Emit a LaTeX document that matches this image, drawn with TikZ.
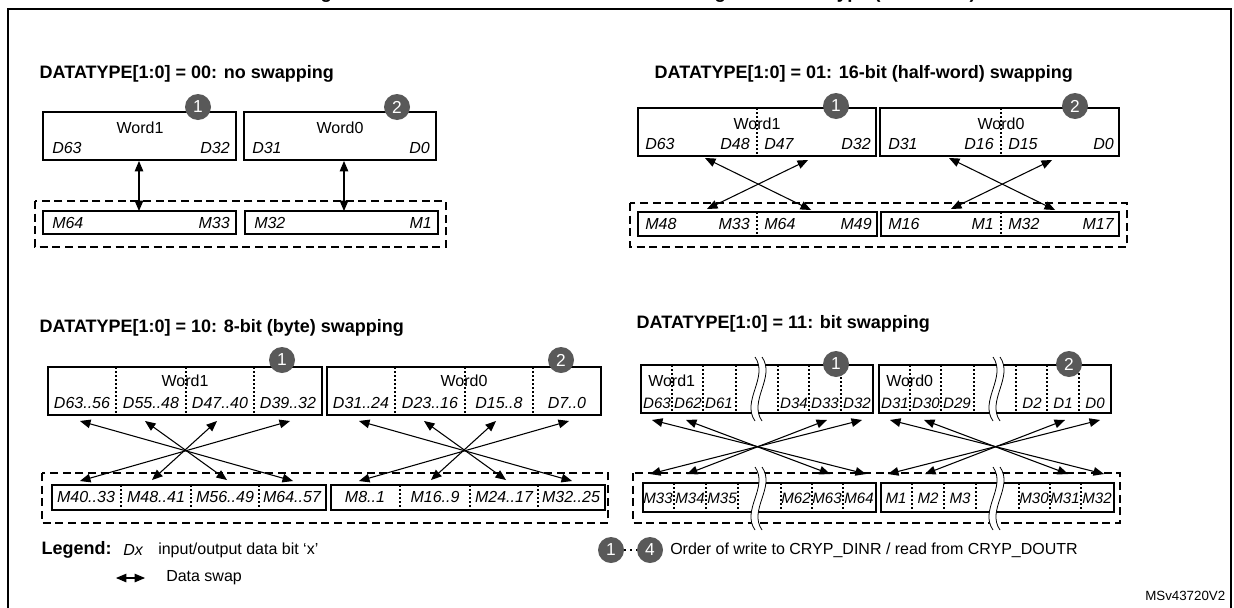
\documentclass[tikz,border=0pt]{standalone}
\usepackage{fontspec}
\setmainfont{Liberation Sans}
\usetikzlibrary{arrows}

\tikzset{
  box/.style={line width=1.1pt},
  grp/.style={line width=1.1pt, dash pattern=on 6pt off 3.5pt},
  div/.style={line width=0.8pt, dash pattern=on 1.5pt off 1.5pt},
  swap/.style={line width=0.8pt, arrows={triangle 45-triangle 45}},
  head/.style={font=\fontsize{13.5}{15}\bfseries\selectfont, anchor=west},
  lbl/.style={font=\fontsize{12}{13}\selectfont, inner sep=0pt},
  bit/.style={font=\fontsize{12}{13}\itshape\selectfont, inner sep=0pt},
  sbit/.style={font=\fontsize{11.3}{12}\itshape\selectfont, inner sep=0pt},
  ord/.style={circle, fill=black!65, text=white, minimum size=19.5pt, inner sep=0pt,
    font=\fontsize{13}{14}\selectfont}
}

% cut in a long register
\newcommand{\brk}[3]{%
  \fill[white] (#1,#2) .. controls (#1+14,#2+20) and (#1-14,#3-20) .. (#1,#3)
    -- (#1+7,#3) .. controls (#1-7,#3-20) and (#1+21,#2+20) .. (#1+7,#2) -- cycle;
  \draw[line width=0.6pt] (#1,#2) .. controls (#1+14,#2+20) and (#1-14,#3-20) .. (#1,#3);
  \draw[line width=0.6pt] (#1+7,#2) .. controls (#1+21,#2+20) and (#1-7,#3-20) .. (#1+7,#3);
}

\begin{document}
\begin{tikzpicture}[x=0.75pt,y=-0.75pt]
\useasboundingbox (0,0) rectangle (1234,607);

\draw[line width=1.2pt] (8,620) -- (8,9) -- (1231,9) -- (1231,620);
\node[font=\fontsize{14}{15}\bfseries\selectfont, anchor=base] (ttl) at (640,-2)
  {Figure 206. 64-bit block construction according to the data type (continued)};

%% 00: no swapping
\node[head] (h00) at (35,74) {DATATYPE[1:0] = 00: no swapping};
\draw[box] (43,112) rectangle (236,160);
\draw[box] (244,112) rectangle (436,160);
\node[lbl] (w1a) at (140,128) {Word1};
\node[lbl] (w0a) at (340,128) {Word0};
\node[bit,anchor=west] at (52,148) {D63};
\node[bit,anchor=east] at (230,148) {D32};
\node[bit,anchor=west] at (252,148) {D31};
\node[bit,anchor=east] at (430,148) {D0};
\draw[grp] (35,201) rectangle (446,247);
\draw[box] (43,211) rectangle (236,234);
\draw[box] (245,211) rectangle (438,234);
\node[bit,anchor=west] at (52,223) {M64};
\node[bit,anchor=east] at (230,223) {M33};
\node[bit,anchor=west] at (254,223) {M32};
\node[bit,anchor=east] at (432,223) {M1};
\coordinate (a1) at (139,161); \coordinate (b1) at (139,211);
\coordinate (a2) at (344,161); \coordinate (b2) at (344,211);
\draw[swap] (a1) -- (b1);
\draw[swap] (a2) -- (b2);
\node[ord] (c1a) at (198,107) {1};
\node[ord] (c2a) at (397,107) {2};

%% 01: half-word swapping
\node[head] (h01) at (650,74) {DATATYPE[1:0] = 01: 16-bit (half-word) swapping};
\draw[box] (638,108) rectangle (876,156);
\draw[box] (880,108) rectangle (1119,156);
\draw[div] (757,108) -- (757,156);
\draw[div] (1001,108) -- (1001,156);
\node[lbl] at (757,124) {Word1};
\node[lbl] at (1001,124) {Word0};
\node[bit,anchor=west] at (645,144) {D63};
\node[bit,anchor=east] at (750,144) {D48};
\node[bit,anchor=west] at (764,144) {D47};
\node[bit,anchor=east] at (871,144) {D32};
\node[bit,anchor=west] at (888,144) {D31};
\node[bit,anchor=east] at (994,144) {D16};
\node[bit,anchor=west] at (1008,144) {D15};
\node[bit,anchor=east] at (1114,144) {D0};
\draw[grp] (630,203) rectangle (1127,247);
\draw[box] (638,212) rectangle (877,236);
\draw[box] (881,212) rectangle (1119,236);
\draw[div] (757,212) -- (757,236);
\draw[div] (1001,212) -- (1001,236);
\node[bit,anchor=west] at (645,224) {M48};
\node[bit,anchor=east] at (750,224) {M33};
\node[bit,anchor=west] at (764,224) {M64};
\node[bit,anchor=east] at (872,224) {M49};
\node[bit,anchor=west] at (888,224) {M16};
\node[bit,anchor=east] at (994,224) {M1};
\node[bit,anchor=west] at (1008,224) {M32};
\node[bit,anchor=east] at (1114,224) {M17};
\foreach \o [count=\i] in {0,244} {
  \coordinate (p\i) at (705+\o,158); \coordinate (q\i) at (811+\o,210);
  \coordinate (r\i) at (808+\o,160); \coordinate (s\i) at (707+\o,209);
  \draw[swap] (p\i) -- (q\i);
  \draw[swap] (r\i) -- (s\i);
}
\node[ord] (c1b) at (836,106) {1};
\node[ord] (c2b) at (1075,106) {2};

%% 10: byte swapping
\node[head] (h10) at (35,328) {DATATYPE[1:0] = 10: 8-bit (byte) swapping};
\draw[grp] (42,473) rectangle (608,523);
\foreach \o/\na/\nb/\nc/\nd/\ma/\mb/\mc/\md/\w [count=\k] in
  {0/D63..56/D55..48/D47..40/D39..32/M40..33/M48..41/M56..49/M64..57/Word1,
   279/D31..24/D23..16/D15..8/D7..0/M8..1/M16..9/M24..17/M32..25/Word0} {
  \draw[box] (48+\o,367) rectangle (322+\o,415);
  \foreach \x in {116,186,254} \draw[div] (\x+\o,367) -- (\x+\o,415);
  \node[lbl] at (185+\o,381) {\w};
  \node[bit] at (82+\o,403) {\na};
  \node[bit] at (151+\o,403) {\nb};
  \node[bit] at (220+\o,403) {\nc};
  \node[bit] at (288+\o,403) {\nd};
  \draw[box] (52+\o,485) rectangle (326+\o,510);
  \foreach \x in {121,191,259} \draw[div] (\x+\o,485) -- (\x+\o,510);
  \node[bit] at (86+\o,497) {\ma};
  \node[bit] at (156+\o,497) {\mb};
  \node[bit] at (225+\o,497) {\mc};
  \node[bit] at (292+\o,497) {\md};
  \coordinate (u1\k) at (80+\o,421);  \coordinate (l4\k) at (293+\o,481);
  \coordinate (u2\k) at (145+\o,421); \coordinate (l3\k) at (227+\o,480);
  \coordinate (u3\k) at (217+\o,421); \coordinate (l2\k) at (152+\o,480);
  \coordinate (u4\k) at (290+\o,421); \coordinate (l1\k) at (80+\o,481);
  \draw[swap] (u1\k) -- (l4\k);
  \draw[swap] (u2\k) -- (l3\k);
  \draw[swap] (u3\k) -- (l2\k);
  \draw[swap] (u4\k) -- (l1\k);
}
\node[ord] (c1c) at (282,360) {1};
\node[ord] (c2c) at (561,360) {2};

%% 11: bit swapping
\node[head] (h11) at (632,324) {DATATYPE[1:0] = 11: bit swapping};
\draw[grp] (633,473) rectangle (1120,523);
\foreach \o/\na/\nb/\nc/\nd/\ne/\nf/\ma/\mb/\mc/\md/\me/\mf/\w [count=\k] in
  {0/D63/D62/D61/D34/D33/D32/M33/M34/M35/M62/M63/M64/Word1,
   238/D31/D30/D29/D2/D1/D0/M1/M2/M3/M30/M31/M32/Word0} {
  \draw[box] (641+\o,365) rectangle (873+\o,413);
  \foreach \x in {672,703,736,778,809,841} \draw[div] (\x+\o,365) -- (\x+\o,413);
  \node[lbl,anchor=west] at (648+\o,381) {\w};
  \node[sbit] at (657+\o,403) {\na};
  \node[sbit] at (688+\o,403) {\nb};
  \node[sbit] at (719+\o,403) {\nc};
  \node[sbit] at (794+\o,403) {\nd};
  \node[sbit] at (825+\o,403) {\ne};
  \node[sbit] at (857+\o,403) {\nf};
  \brk{755+\o}{357}{421}
  \draw[box] (643+\o,483) rectangle (876+\o,512);
  \foreach \x in {674,706,738,781,812,843} \draw[div] (\x+\o,483) -- (\x+\o,512);
  \node[sbit] at (658+\o,498) {\ma};
  \node[sbit] at (690+\o,498) {\mb};
  \node[sbit] at (722+\o,498) {\mc};
  \node[sbit] at (796+\o,498) {\md};
  \node[sbit] at (827+\o,498) {\me};
  \node[sbit] at (859+\o,498) {\mf};
  \brk{755+\o}{467}{530}
  \coordinate (t1\k) at (652+\o,420); \coordinate (b4\k) at (866+\o,474);
  \coordinate (t2\k) at (686+\o,420); \coordinate (b3\k) at (830+\o,474);
  \coordinate (t3\k) at (827+\o,420); \coordinate (b2\k) at (687+\o,474);
  \coordinate (t4\k) at (862+\o,420); \coordinate (b1\k) at (650+\o,474);
  \draw[swap] (t1\k) -- (b4\k);
  \draw[swap] (t2\k) -- (b3\k);
  \draw[swap] (t3\k) -- (b2\k);
  \draw[swap] (t4\k) -- (b1\k);
}
\node[ord] (c1d) at (836,364) {1};
\node[ord] (c2d) at (1069,364) {2};

%% legend
\node[head] (lg) at (37,550) {Legend:};
\node[bit,anchor=west] (dx) at (123,550) {Dx};
\node[lbl,anchor=west] (dxt) at (158,550) {input/output data bit `x'};
\coordinate (la) at (116,578); \coordinate (lb) at (145,578);
\draw[swap] (la) -- (lb);
\node[lbl,anchor=west] (dst) at (166,578) {Data swap};
\node[ord] (o1) at (611,550) {1};
\node[ord] (o4) at (650,550) {4};
\draw[line width=1.2pt, dash pattern=on 1.5pt off 3pt] (o1) -- (o4);
\node[lbl,anchor=west] (ot) at (670,550) {Order of write to CRYP\_DINR / read from CRYP\_DOUTR};
\node[font=\fontsize{10}{11}\selectfont, anchor=east] (id) at (1230,596) {MSv43720V2};
\end{tikzpicture}
\end{document}
